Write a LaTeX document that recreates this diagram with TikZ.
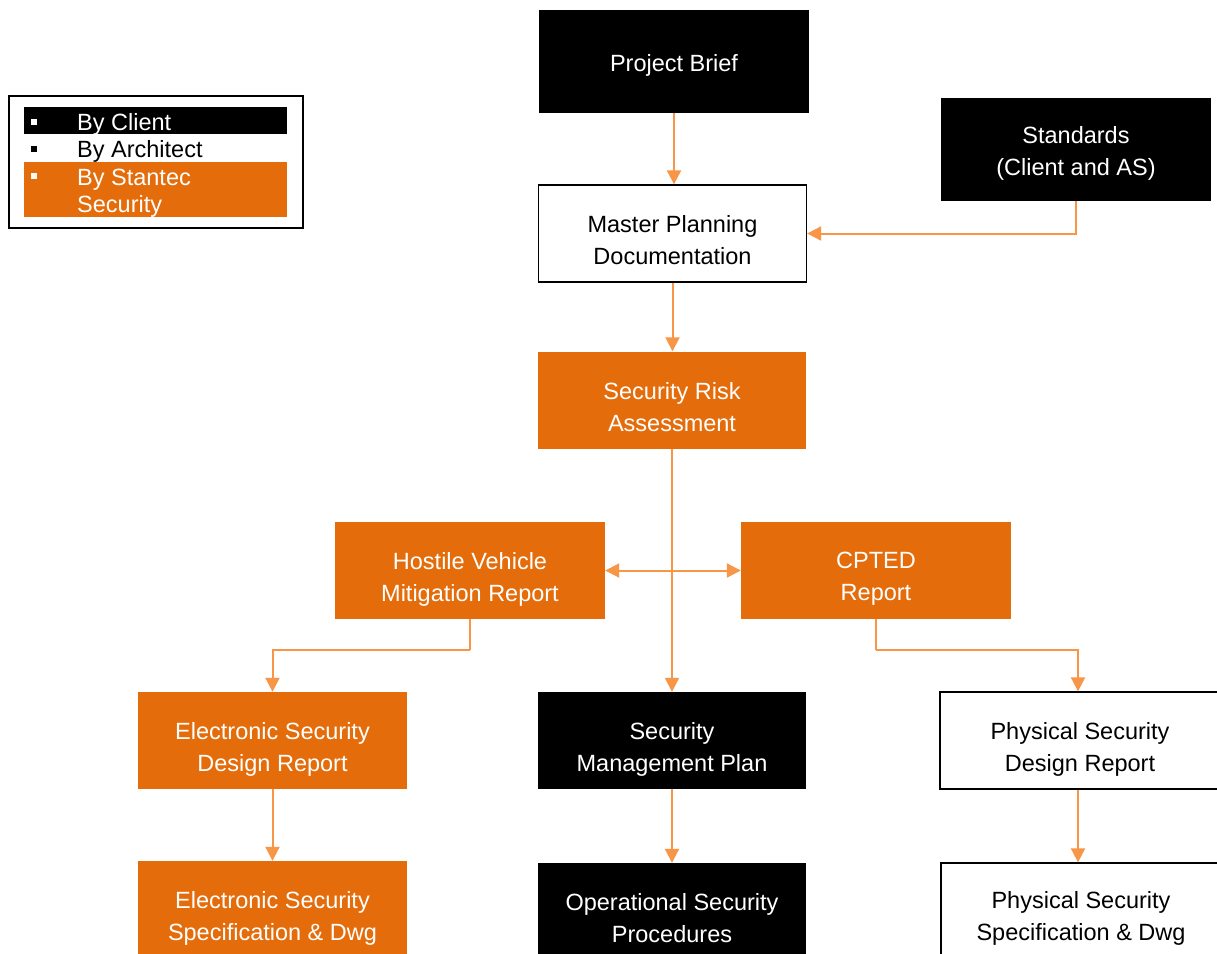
\documentclass[tikz,border=0pt]{standalone}
\usepackage{fontspec}
\setmainfont{Liberation Sans}
\usetikzlibrary{arrows.meta}
\definecolor{orfill}{HTML}{E46C0A}
\definecolor{orline}{HTML}{F79646}
\tikzset{
  x=1pt,y=-1pt,
  box/.style={minimum width=#1, minimum height=97pt, inner sep=0pt},
  box/.default=268pt,
  clientbox/.style={box=#1, fill=black},
  clientbox/.default=270pt,
  archbox/.style={box=#1, fill=white, draw=black, line width=1.3pt},
  archbox/.default=268pt,
  stanbox/.style={box=#1, fill=orfill},
  stanbox/.default=270pt,
  txt/.style={inner sep=0pt, align=center, font=\fontsize{23.5}{32}\selectfont},
  wtxt/.style={txt, text=white},
  btxt/.style={txt, text=black},
  conn/.style={draw=orline, line width=2pt},
  arr/.style={conn, -{Triangle[width=14pt,length=14pt]}},
  darr/.style={conn, {Triangle[width=14pt,length=14pt]}-{Triangle[width=14pt,length=14pt]}},
  legtext/.style={anchor=west, inner sep=0pt, font=\fontsize{23.5}{27}\selectfont},
}
\begin{document}
\begin{tikzpicture}
\useasboundingbox (0,0) rectangle (1217,953);
\clip (0,0) rectangle (1217,953);
\fill[white] (0,0) rectangle (1217,953);

% legend
\draw[line width=1.3pt, fill=white] (9,96) rectangle (303,228);
\fill[black] (24,107) rectangle (287,134);
\fill[orfill] (24,162) rectangle (287,217);
\fill[white] (31,119) rectangle (37,125);
\fill[black] (31,146) rectangle (37,152);
\fill[white] (31,173) rectangle (37,179);
\node[legtext, text=white] (l1) at (77,124) {By Client};
\node[legtext, text=black] (l2) at (77,151) {By Architect};
\node[legtext, text=white, align=left] (l3) at (77,193) {By Stantec\\Security};

% boxes
\node[clientbox, minimum height=103pt] (pb) at (674,61.5) {};
\node[clientbox, minimum height=103pt] (std) at (1076,149.5) {};
\node[archbox] (mp) at (672.5,233.5) {};
\node[stanbox=268pt] (sra) at (672,400) {};
\node[stanbox] (hvm) at (470,570.5) {};
\node[stanbox] (cpt) at (876,570.5) {};
\node[stanbox=269pt] (edr) at (272.5,740.5) {};
\node[clientbox=268pt] (smp) at (672,740.5) {};
\node[archbox=280pt] (pdr) at (1080,740.5) {};
\node[stanbox=269pt] (esp) at (272.5,909.5) {};
\node[clientbox=268pt] (osp) at (672,911.5) {};
\node[archbox=280pt] (psp) at (1081,911.5) {};

% texts
\node[wtxt] (pbt) at ([yshift=-4pt]pb.center) {Project Brief};
\node[wtxt] (stdt) at ([yshift=-4pt]std.center) {Standards\\(Client and AS)};
\node[btxt] (mpt) at ([yshift=-7pt]mp.center) {Master Planning\\Documentation};
\node[wtxt] (srat) at ([yshift=-7pt]sra.center) {Security Risk\\Assessment};
\node[wtxt] (hvmt) at ([yshift=-8.5pt]hvm.center) {Hostile Vehicle\\Mitigation Report};
\node[wtxt] (cptt) at ([yshift=-8.5pt]cpt.center) {CPTED\\Report};
\node[wtxt] (edrt) at ([yshift=-8.5pt]edr.center) {Electronic Security\\Design Report};
\node[wtxt] (smpt) at ([yshift=-8.5pt]smp.center) {Security\\Management Plan};
\node[btxt] (pdrt) at ([yshift=-8.5pt]pdr.center) {Physical Security\\Design Report};
\node[wtxt] (espt) at ([yshift=-8.5pt]esp.center) {Electronic Security\\Specification \& Dwg};
\node[wtxt] (ospt) at ([yshift=-7pt]osp.center) {Operational Security\\Procedures};
\node[btxt] (pspt) at ([yshift=-7pt]psp.center) {Physical Security\\Specification \& Dwg};

% connectors
\draw[arr] (pb.south) -- (mp.north -| pb.south);
\draw[arr] (std.south) |- (mp.east);
\draw[arr] (mp.south) -- (sra.north -| mp.south);
\draw[arr] (sra.south) -- (smp.north);
\draw[darr] (hvm.east) -- (cpt.west);
\coordinate (jl) at (470,650);
\coordinate (jr) at (876,650);
\draw[conn] (hvm.south) -- (jl);
\draw[conn] (cpt.south) -- (jr);
\draw[arr] (jl) -| (edr.north);
\draw[arr] (jr) -| ([xshift=-2pt]pdr.north);
\draw[arr] (edr.south) -- (esp.north);
\draw[arr] (smp.south) -- (osp.north);
\draw[arr] ([xshift=-2pt]pdr.south) -- ([xshift=-2pt]pdr.south |- psp.north);
\end{tikzpicture}
\end{document}
